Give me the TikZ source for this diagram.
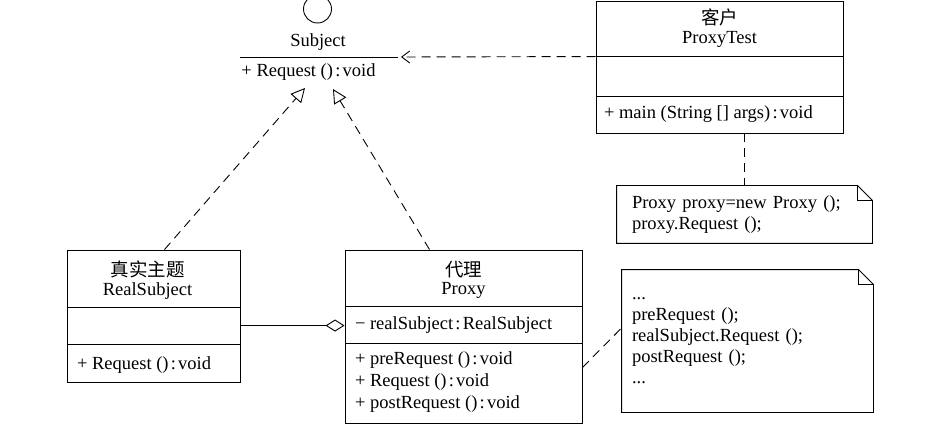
\documentclass[tikz,border=0pt]{standalone}
\usepackage{fontspec}
\setmainfont{Liberation Serif}
\newfontfamily\cjk{Noto Sans CJK SC}
\usetikzlibrary{arrows.meta,positioning,calc}

% colon between operation and type
\newcommand{\tsep}{\hspace{0.12em}:\hspace{0.12em}}
% note outline with folded corner
\newcommand{\dogear}[2]{%
	\draw (#1.north west) -- ($(#1.north east)+(-#2,0)$) -- ($(#1.north east)+(0,#2)$) -- (#1.south east) -- (#1.south west) -- cycle;
	\draw ($(#1.north east)+(-#2,0)$) |- ($(#1.north east)+(0,#2)$);}

\begin{document}
\begin{tikzpicture}[x=1pt, y=-1pt, line width=0.9pt,
	font=\fontsize{18.5}{21}\selectfont,
	classbox/.style={draw, inner sep=0pt},
	lbl/.style={inner sep=0pt},
	notebox/.style={inner xsep=15pt, inner ysep=0pt, align=left},
	dashline/.style={dash pattern=on 9pt off 6pt},
	realize/.style={dashline, -{Triangle[open, length=14pt, width=14pt]}},
	dep/.style={dashline, -{Straight Barb[length=8pt, width=12pt]}},
	agg/.style={-{Diamond[open, length=19pt, width=12pt]}}]
	\useasboundingbox (0,0) rectangle (936,438);
	
	% Subject interface
	\node[draw, circle, minimum size=28pt, inner sep=0pt] (subjcirc) at (317.5,9) {};
	\node[lbl] (subjname) at (318,42) {Subject};
	\coordinate (subjl) at (240,57);
	\coordinate (subjr) at (398,57);
	\draw (subjl) -- (subjr);
	\node[lbl, anchor=west] (subjop) at (241,72) {+ Request ()\tsep void};
	\coordinate (subjtip) at (401,57);
	\coordinate (tipl) at (305,88);
	\coordinate (tipr) at (333,89);
	
	% Client
	\node[classbox, minimum width=247pt, minimum height=132pt] (client) at (719.5,67) {};
	\draw ($(client.north west)+(0,56)$) coordinate (clienthdr) -- ($(client.north east)+(0,56)$);
	\draw ($(client.north west)+(0,96)$) -- ($(client.north east)+(0,96)$);
	\node[lbl] (clientcn) at ($(client.north)+(0,17)$) {\cjk 客户};
	\node[lbl] (clientname) at ($(client.north)+(0,39)$) {ProxyTest};
	\node[lbl, anchor=west] (clientop) at ($(client.south west)+(8,-19)$) {+ main (String [] args)\tsep void};
	
	% RealSubject
	\node[classbox, minimum width=173pt, minimum height=132pt] (real) at (153.5,316) {};
	\draw ($(real.north west)+(0,58)$) -- ($(real.north east)+(0,58)$);
	\draw ($(real.north west)+(0,95)$) -- ($(real.north east)+(0,95)$);
	\node[lbl] (realcn) at ($(real.north)+(-6,20)$) {\cjk 真实主题};
	\node[lbl] (realname) at ($(real.north)+(-6,41)$) {RealSubject};
	\node[lbl, anchor=west] (realop) at ($(real.south west)+(10,-17)$) {+ Request ()\tsep void};
	
	% Proxy
	\node[classbox, minimum width=237pt, minimum height=173pt] (proxy) at (463.5,336.5) {};
	\draw ($(proxy.north west)+(0,57)$) -- ($(proxy.north east)+(0,57)$);
	\draw ($(proxy.north west)+(0,94)$) -- ($(proxy.north east)+(0,94)$);
	\node[lbl] (proxycn) at ($(proxy.north)+(0,20)$) {\cjk 代理};
	\node[lbl] (proxyname) at ($(proxy.north)+(0,41)$) {Proxy};
	\node[lbl, anchor=west] (proxyattr) at ($(proxy.north west)+(10,76)$) {− realSubject\tsep RealSubject};
	\node[lbl, anchor=north west, align=left, font=\fontsize{18.5}{22}\selectfont] (proxyops) at ($(proxy.north west)+(10,102)$)
		{+ preRequest ()\tsep void\\+ Request ()\tsep void\\+ postRequest ()\tsep void};
	
	% Notes
	\node[notebox, minimum width=255pt, minimum height=57pt, text width=225pt] (note1) at (744.5,214.5)
		{Proxy proxy=new Proxy ();\\proxy.Request ();};
	\dogear{note1}{15}
	\node[notebox, inner xsep=10pt, minimum width=251pt, minimum height=142pt, text width=231pt] (note2) at (747.5,341)
		{...\\preRequest ();\\realSubject.Request ();\\postRequest ();\\...};
	\dogear{note2}{15}
	
	% Relations
	\draw[dep] (clienthdr) -- (subjtip);
	\draw[realize] ($(real.north)+(11,0)$) -- (tipl);
	\draw[realize] ($(proxy.north)+(-34,0)$) -- (tipr);
	\draw[agg] ($(real.north east)+(0,76)$) -- ($(proxy.north west)+(0,76)$);
	\draw[dashline] (note1.north |- client.south) -- (note1.north);
	\draw[dashline] ($(proxy.east)+(0,31)$) -- ($(note2.west)+(0,-13)$);
\end{tikzpicture}
\end{document}
